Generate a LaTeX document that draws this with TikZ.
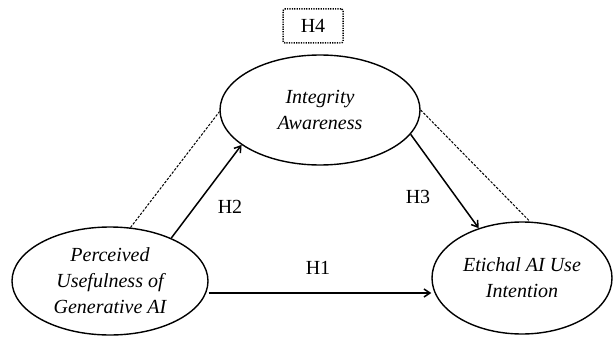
\documentclass[tikz,border=0pt]{standalone}
\usepackage{fontspec}
\setmainfont{Liberation Serif}
\usetikzlibrary{shapes.geometric,arrows.meta}
\begin{document}
\begin{tikzpicture}[x=1pt,y=1pt,
  construct/.style={draw,ellipse,line width=1.4pt,inner sep=0pt,align=center,
    font=\fontsize{20}{26}\selectfont\itshape},
  path/.style={line width=1.5pt,-{Straight Barb[length=6pt,width=8pt,line width=1.5pt]}},
  dashlink/.style={line width=1pt,dash pattern=on 2.5pt off 1.5pt},
  hlabel/.style={font=\fontsize{20}{24}\selectfont}]
\useasboundingbox (0,0) rectangle (615,338);
\node[construct,minimum width=200pt,minimum height=110pt] (ia) at (320,228) {Integrity\\Awareness};
\node[construct,minimum width=196pt,minimum height=108pt] (pu) at (110,57) {Perceived\\Usefulness of\\Generative AI};
\node[construct,minimum width=180pt,minimum height=112pt] (ei) at (522,60) {Etichal AI Use\\Intention};
\node[draw,line width=1.5pt,dash pattern=on 1.2pt off 1.2pt,rounded corners=2pt,minimum width=60pt,minimum height=34pt,inner sep=0pt,hlabel] (h4) at (313,312) {H4};
\draw[path] (pu.35) -- (ia.204);
\draw[path] (ia.345) -- (ei.131);
\draw[path] (pu.east |- 0,45) -- (ei.west |- 0,45);
\draw[dashlink] (pu.69) -- (ia.181);
\draw[dashlink] (ia.0) -- (ei.82);
\node[hlabel] (lh2) at (230,131) {H2};
\node[hlabel] (lh3) at (418,141) {H3};
\node[hlabel] (lh1) at (318,70) {H1};
\end{tikzpicture}
\end{document}
